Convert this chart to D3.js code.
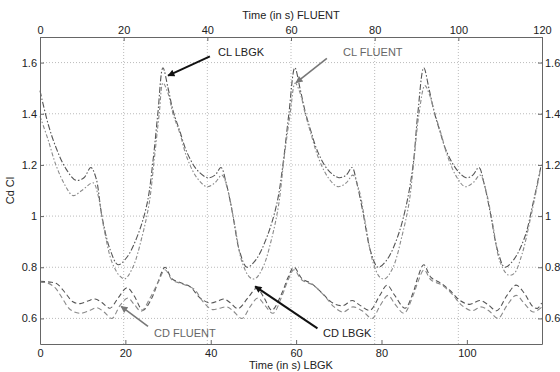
<!DOCTYPE html>
<html><head><meta charset="utf-8">
<script src="https://cdn.jsdelivr.net/npm/d3@7/dist/d3.min.js"></script>
<style>body{margin:0;background:#fff}svg{display:block}text{font-family:"Liberation Sans",Arial,sans-serif}</style>
</head><body><svg id="c" width="560" height="372"></svg>
<script>
// ---- data ----
const topTicks = [0,20,40,60,80,100,120];
const bottomTicks = [0,20,40,60,80,100];
const yTicks = [0.6,0.8,1.0,1.2,1.4,1.6];

// CL LBGK (time on bottom axis)
const clLbgkT = [0,1.9,3.7,5.9,8.4,10.3,11.9,13.1,14.5,16.4,18.3,20.4,23.0,25.1,26.5,27.6,28.8,30.0,31.2,32.8,34.4,36.8,39.3,41.0,42.4,43.6,45.0,46.8,48.5,50.6,53.2,55.5,56.9,58.3,59.7,60.9,62.1,63.5,65.1,67.5,70.0,71.7,73.1,74.2,75.6,77.5,79.2,81.3,83.8,85.9,87.4,88.5,89.9,91.1,92.3,93.7,95.3,97.7,99.8,101.4,102.8,104.0,105.4,107.3,108.9,111.0,113.6,115.5,117.3];
const clLbgkV = [1.49,1.36,1.27,1.19,1.14,1.15,1.19,1.15,1.00,0.87,0.81,0.84,0.93,1.05,1.22,1.40,1.58,1.50,1.41,1.33,1.25,1.18,1.15,1.16,1.19,1.13,1.02,0.86,0.80,0.83,0.92,1.05,1.20,1.40,1.58,1.50,1.41,1.33,1.25,1.18,1.15,1.16,1.19,1.13,1.02,0.86,0.80,0.83,0.92,1.05,1.20,1.40,1.58,1.50,1.41,1.33,1.25,1.18,1.15,1.16,1.19,1.13,1.02,0.86,0.80,0.83,0.92,1.05,1.19];

// CL FLUENT (time on top axis)
const clFluentT = [0,1.9,3.8,6.0,7.9,10.0,12.7,13.9,15.3,17.2,19.1,20.3,22.2,24.4,26.1,27.3,28.5,29.4,30.6,31.8,33.5,35.1,37.5,39.9,41.8,43.5,44.9,46.4,48.3,50.2,51.4,53.3,55.5,57.1,58.3,59.8,61.0,62.2,63.4,64.8,66.5,68.9,71.2,73.2,74.8,76.3,77.7,79.6,81.3,82.5,84.4,86.5,88.2,89.4,90.6,92.0,93.2,94.4,95.9,97.5,99.7,101.6,103.5,105.2,106.6,108.1,110.0,111.9,113.3,115.2,117.1,119.5];
const clFluentV = [1.39,1.30,1.20,1.12,1.08,1.10,1.13,1.08,0.95,0.82,0.765,0.755,0.80,0.92,1.05,1.22,1.40,1.52,1.48,1.40,1.32,1.23,1.15,1.115,1.13,1.16,1.10,0.98,0.82,0.76,0.755,0.80,0.92,1.05,1.22,1.40,1.52,1.48,1.40,1.32,1.23,1.15,1.115,1.13,1.16,1.10,0.98,0.82,0.76,0.755,0.80,0.92,1.05,1.22,1.40,1.51,1.47,1.40,1.32,1.23,1.15,1.115,1.13,1.16,1.10,0.98,0.82,0.77,0.775,0.85,0.98,1.17];

// CD LBGK (time on bottom axis)
const cdLbgkT = [0,2.3,4.0,5.9,7.7,9.4,11.2,12.9,14.5,16.4,18.3,20.4,22.0,24.1,26.2,27.6,29.3,30.9,32.8,35.1,37.5,39.8,41.7,43.1,44.5,46.4,48.7,50.8,52.5,54.3,56.7,58.1,59.5,61.4,63.7,66.0,68.6,71.0,73.1,74.9,77.3,79.6,81.3,83.1,85.5,87.4,88.5,89.9,91.6,93.7,96.0,98.4,100.7,103.0,104.9,107.0,109.4,111.5,113.4,115.5,116.6,117.5];
const cdLbgkV = [0.745,0.742,0.735,0.700,0.665,0.658,0.668,0.676,0.662,0.640,0.680,0.720,0.690,0.632,0.680,0.740,0.800,0.755,0.740,0.725,0.680,0.660,0.668,0.676,0.662,0.638,0.680,0.718,0.680,0.632,0.700,0.760,0.800,0.755,0.735,0.700,0.660,0.650,0.670,0.652,0.632,0.690,0.730,0.690,0.640,0.700,0.760,0.810,0.760,0.740,0.710,0.670,0.655,0.670,0.655,0.630,0.690,0.730,0.700,0.645,0.640,0.660];

// CD FLUENT (time on top axis)
const cdFluentT = [0,1.9,3.6,5.3,7.2,9.6,12.0,13.6,15.3,17.2,19.1,21.0,22.5,24.2,26.3,28.2,29.9,31.6,34.0,36.8,39.0,41.1,43.0,44.7,46.1,48.3,50.2,52.1,53.8,55.7,57.9,59.3,60.7,62.6,65.3,67.9,70.3,72.4,74.8,77.0,79.4,81.3,83.2,84.9,87.0,89.2,90.4,91.8,93.5,96.1,98.5,100.9,103.3,105.4,107.3,109.5,111.6,113.8,115.7,117.9,120];
const cdFluentV = [0.742,0.738,0.720,0.680,0.635,0.620,0.632,0.642,0.625,0.600,0.650,0.680,0.655,0.628,0.680,0.740,0.790,0.750,0.735,0.715,0.665,0.635,0.640,0.645,0.630,0.600,0.645,0.680,0.650,0.620,0.690,0.750,0.790,0.750,0.730,0.690,0.645,0.625,0.645,0.630,0.600,0.650,0.690,0.655,0.620,0.690,0.745,0.790,0.750,0.730,0.695,0.650,0.630,0.645,0.630,0.600,0.650,0.690,0.660,0.625,0.645];

// annotations (bottom-axis time, value)
const annLabels = ["CL LBGK","CL FLUENT","CD FLUENT","CD LBGK"];
const annText = [[41.7,1.627],[71.0,1.627],[26.7,0.527],[66.3,0.527]];
const annTail = [[39.8,1.624],[67.2,1.616],[25.3,0.569],[65.0,0.561]];
const annTip  = [[30.0,1.549],[60.0,1.522],[19.0,0.647],[50.4,0.725]];
const annColor = ["#111","#777","#777","#111"];

// ---- drawing ----
const svg = d3.select("#c");
const L=40,R=542,T=37,B=344;
const xTop = d3.scaleLinear().domain([0,120]).range([L,R]);
const xBot = d3.scaleLinear().domain([0,117.6]).range([L,R]);
const y = d3.scaleLinear().domain([0.5,1.7]).range([B,T]);

// grid
const grid = svg.append("g").attr("stroke","#aaa").attr("stroke-width",0.8).attr("stroke-dasharray","1,2");
grid.selectAll(".gx").data(topTicks.slice(1,-1)).join("line")
  .attr("x1",d=>xTop(d)).attr("x2",d=>xTop(d)).attr("y1",T).attr("y2",B);
grid.selectAll(".gy").data(yTicks).join("line")
  .attr("x1",L).attr("x2",R).attr("y1",d=>y(d)).attr("y2",d=>y(d));

// series
const mk = (xs,T_,V_) => d3.line().curve(d3.curveCatmullRom.alpha(0.5)).x((d,i)=>xs(T_[i])).y((d,i)=>y(V_[i]));
const series = [
  {xs:xBot,t:clLbgkT,v:clLbgkV,c:"#555",da:"6,2,1.5,2"},
  {xs:xTop,t:clFluentT,v:clFluentV,c:"#8a8a8a",da:"4,2,1.5,2"},
  {xs:xBot,t:cdLbgkT,v:cdLbgkV,c:"#555",da:"5,3"},
  {xs:xTop,t:cdFluentT,v:cdFluentV,c:"#8a8a8a",da:"5,3"}
];
series.forEach(s=>{
  svg.append("path").datum(s.t).attr("d",mk(s.xs,s.t,s.v))
    .attr("fill","none").attr("stroke",s.c).attr("stroke-width",1.1).attr("stroke-dasharray",s.da);
});

// axes
const fmtY = d => d===1?"1":d3.format(".1f")(d);
function style(g){
  g.select(".domain").attr("stroke","#666");
  g.selectAll(".tick line").attr("stroke","#666");
  g.selectAll("text").attr("fill","#222").attr("font-size",11).attr("font-family","Liberation Sans, Arial, sans-serif");
}
svg.append("g").attr("transform",`translate(0,${T})`)
  .call(d3.axisTop(xTop).tickValues(topTicks).tickSizeInner(-4).tickSizeOuter(0).tickPadding(3)).call(style);
svg.append("g").attr("transform",`translate(0,${B})`)
  .call(d3.axisBottom(xBot).tickValues(bottomTicks).tickSizeInner(-4).tickSizeOuter(0).tickPadding(5)).call(style);
svg.append("g").attr("transform",`translate(${L},0)`)
  .call(d3.axisLeft(y).tickValues(yTicks).tickFormat(fmtY).tickSizeInner(-4).tickSizeOuter(0).tickPadding(3)).call(style);
svg.append("g").attr("transform",`translate(${R},0)`)
  .call(d3.axisRight(y).tickValues(yTicks).tickFormat(fmtY).tickSizeInner(-4).tickSizeOuter(0).tickPadding(3)).call(style);

// titles
svg.append("text").attr("x",(L+R)/2).attr("y",19).attr("text-anchor","middle").attr("font-size",11).attr("fill","#222").text("Time (in s) FLUENT");
svg.append("text").attr("x",(L+R)/2).attr("y",369).attr("text-anchor","middle").attr("font-size",11).attr("fill","#222").text("Time (in s) LBGK");
svg.append("text").attr("transform",`translate(14,${(T+B)/2}) rotate(-90)`).attr("text-anchor","middle").attr("font-size",11).attr("fill","#222").text("Cd  Cl");

// annotations
const defs = svg.append("defs");
annColor.forEach((c,i)=>{
  defs.append("marker").attr("id","ah"+i).attr("viewBox","0 0 10 10").attr("refX",9).attr("refY",5)
    .attr("markerWidth",9).attr("markerHeight",7).attr("markerUnits","userSpaceOnUse").attr("orient","auto")
    .append("path").attr("d","M0,0L10,5L0,10z").attr("fill",c);
});
annLabels.forEach((lab,i)=>{
  svg.append("line").attr("x1",xBot(annTail[i][0])).attr("y1",y(annTail[i][1]))
    .attr("x2",xBot(annTip[i][0])).attr("y2",y(annTip[i][1]))
    .attr("stroke",annColor[i]).attr("stroke-width",i===0||i===3?2:1.6).attr("marker-end",`url(#ah${i})`);
  svg.append("text").attr("x",xBot(annText[i][0])).attr("y",y(annText[i][1]))
    .attr("font-size",11).attr("fill",annColor[i]==="#111"?"#222":"#666").text(lab);
});
</script></body></html>
